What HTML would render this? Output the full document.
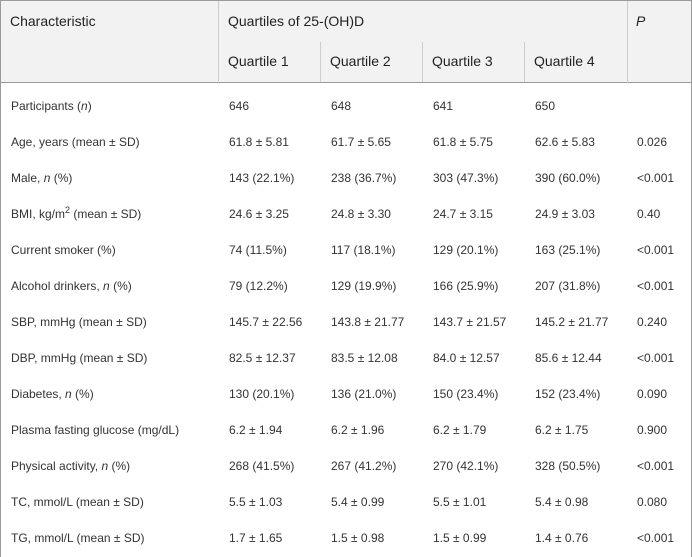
<!DOCTYPE html><html><head><style>
html,body{margin:0;width:692px;height:557px;overflow:hidden}
body{background:#fff;font-family:"Liberation Sans",sans-serif;color:#333;position:relative}
.b{position:absolute}
.h{position:absolute;font-size:14px;color:#222}
.t{position:absolute;font-size:12px;line-height:14px;color:#333;white-space:nowrap}
sup{font-size:9px;vertical-align:0;position:relative;top:-5px}
</style></head><body>
<div class="b" style="left:0;top:0;width:690px;height:570px;border:1px solid #9a9a9a"></div>
<div class="b" style="left:1px;top:1px;width:690px;height:81px;background:#f2f2f2;border-bottom:1px solid #9a9a9a"></div>
<div class="b" style="left:218px;top:1px;width:1px;height:82px;background:#ccc"></div>
<div class="b" style="left:627px;top:1px;width:1px;height:82px;background:#ccc"></div>
<div class="b" style="left:320px;top:42px;width:1px;height:40px;background:#ccc"></div>
<div class="b" style="left:422px;top:42px;width:1px;height:40px;background:#ccc"></div>
<div class="b" style="left:524px;top:42px;width:1px;height:40px;background:#ccc"></div>
<div class="h" style="left:10px;top:13px">Characteristic</div>
<div class="h" style="left:228px;top:13px">Quartiles of 25-(OH)D</div>
<div class="h" style="left:636px;top:13px"><i>P</i></div>
<div class="h" style="left:228px;top:53px">Quartile 1</div>
<div class="h" style="left:330px;top:53px">Quartile 2</div>
<div class="h" style="left:432px;top:53px">Quartile 3</div>
<div class="h" style="left:534px;top:53px">Quartile 4</div>
<div id="rows"></div>
<script>
var r=[["Participants (<i>n</i>)","646","648","641","650",""],
["Age, years (mean ± SD)","61.8 ± 5.81","61.7 ± 5.65","61.8 ± 5.75","62.6 ± 5.83","0.026"],
["Male, <i>n</i> (%)","143 (22.1%)","238 (36.7%)","303 (47.3%)","390 (60.0%)","&lt;0.001"],
["BMI, kg/m<sup>2</sup> (mean ± SD)","24.6 ± 3.25","24.8 ± 3.30","24.7 ± 3.15","24.9 ± 3.03","0.40"],
["Current smoker (%)","74 (11.5%)","117 (18.1%)","129 (20.1%)","163 (25.1%)","&lt;0.001"],
["Alcohol drinkers, <i>n</i> (%)","79 (12.2%)","129 (19.9%)","166 (25.9%)","207 (31.8%)","&lt;0.001"],
["SBP, mmHg (mean ± SD)","145.7 ± 22.56","143.8 ± 21.77","143.7 ± 21.57","145.2 ± 21.77","0.240"],
["DBP, mmHg (mean ± SD)","82.5 ± 12.37","83.5 ± 12.08","84.0 ± 12.57","85.6 ± 12.44","&lt;0.001"],
["Diabetes, <i>n</i> (%)","130 (20.1%)","136 (21.0%)","150 (23.4%)","152 (23.4%)","0.090"],
["Plasma fasting glucose (mg/dL)","6.2 ± 1.94","6.2 ± 1.96","6.2 ± 1.79","6.2 ± 1.75","0.900"],
["Physical activity, <i>n</i> (%)","268 (41.5%)","267 (41.2%)","270 (42.1%)","328 (50.5%)","&lt;0.001"],
["TC, mmol/L (mean ± SD)","5.5 ± 1.03","5.4 ± 0.99","5.5 ± 1.01","5.4 ± 0.98","0.080"],
["TG, mmol/L (mean ± SD)","1.7 ± 1.65","1.5 ± 0.98","1.5 ± 0.99","1.4 ± 0.76","&lt;0.001"]];
var x=[11,229,331,433,535,637],h="";
r.forEach(function(row,i){row.forEach(function(c,j){h+='<div class="t" style="left:'+x[j]+'px;top:'+(99+i*36)+'px">'+c+'</div>';});});
document.getElementById('rows').innerHTML=h;
</script>
</body></html>
